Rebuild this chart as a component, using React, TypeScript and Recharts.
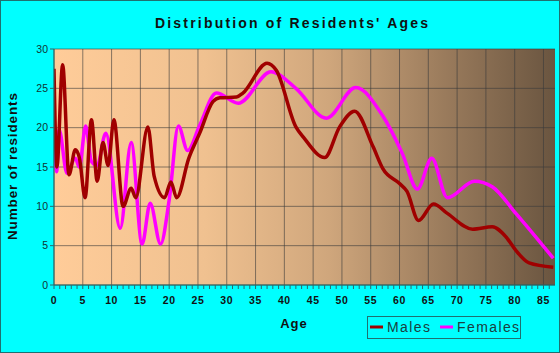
import React from 'react';
import { LineChart, Line, XAxis, YAxis, CartesianGrid, Legend } from 'recharts';

const maleAges = [0, 0.5, 1.5, 2.6, 3.7, 4.4, 5.4, 6.5, 7.5, 8.5, 9.4, 10.4, 12, 13.4, 14.2, 16.3, 17.4, 19.2, 20.3, 21.3, 23.4, 25.3, 27.6, 28.8, 31.7, 32.8, 37, 38.6, 42, 43.3, 47, 49.6, 52.2, 55.4, 57.1, 60, 61.3, 63.3, 65.9, 68.3, 72.7, 76.1, 78.5, 80.2, 82.5, 86.7];
const maleCounts = [27.5, 15, 28, 14, 17.2, 16.2, 11.1, 21, 13.2, 18.1, 15.2, 21, 10, 12.3, 11.1, 20.1, 13.8, 11.1, 13.1, 11.1, 16.1, 19.3, 23.3, 23.8, 23.9, 24.4, 28.2, 27.3, 20.1, 18.8, 16.2, 20.1, 22.1, 17.6, 14.8, 12.9, 11.9, 8.2, 10.3, 9.1, 7.1, 7.4, 6.1, 4.4, 2.8, 2.25];

const femaleAges = [0, 0.45, 0.9, 2.25, 3.7, 4.4, 5.5, 6.5, 7.5, 9, 11.5, 13.4, 15.3, 16.7, 18.5, 20, 21.6, 23.2, 25.3, 28.2, 32, 37.7, 42, 47.3, 52.4, 57, 60.5, 63.1, 65.6, 68.3, 73, 76.1, 80.2, 86.7];
const femaleCounts = [21, 14.4, 19.7, 14.2, 16.1, 15, 20.2, 15.7, 15.2, 19.3, 7.2, 18.1, 5.2, 10.4, 5.2, 10.8, 20.2, 17.1, 20.3, 24.4, 23.1, 27.1, 25, 21.2, 25.1, 21.6, 16.7, 12.2, 16.1, 11.1, 13.2, 12.5, 9.1, 3.4];

const xTickLabels = [0, 5, 10, 15, 20, 25, 30, 35, 40, 45, 50, 55, 60, 65, 70, 75, 80, 85];
const yTickLabels = [0, 5, 10, 15, 20, 25, 30];
const minorTicks = Array.from({ length: 87 }, (_, i) => i);

const males = maleAges.map((a, i) => ({ age: a, v: maleCounts[i] }));
const females = femaleAges.map((a, i) => ({ age: a, v: femaleCounts[i] }));

const FONT = '"Liberation Sans", Arial, sans-serif';
const AXIS = '#2b6b6b';

const XTick = (props: any) => {
  const { x, y, payload } = props;
  const major = payload.value % 5 === 0;
  return (
    <g>
      <line x1={x} x2={x} y1={y} y2={y + 4} stroke={AXIS} strokeWidth={1} />
      {major && (
        <text x={x} y={y + 19} textAnchor="middle" fontFamily={FONT} fontSize={10.5} fontWeight="bold" fill="#111" letterSpacing={0.6}>
          {payload.value}
        </text>
      )}
    </g>
  );
};

const LegendBox = () => (
  <svg width={154} height={23} style={{ display: 'block' }}>
    <rect x={0.5} y={0.5} width={153} height={22} fill="none" stroke="#1f7070" />
    <line x1={3} x2={16} y1={11} y2={11} stroke="#a00000" strokeWidth={3} />
    <text x={20} y={16} fontFamily={FONT} fontSize={14} fill="#1a4040" letterSpacing={1.4}>Males</text>
    <line x1={73} x2={86} y1={11} y2={11} stroke="#ff00ff" strokeWidth={3} />
    <text x={90} y={16} fontFamily={FONT} fontSize={14} fill="#1a4040" letterSpacing={1.4}>Females</text>
  </svg>
);

export default function App() {
  return (
    <div style={{ position: 'absolute', left: 0, top: 0, width: 560, height: 353, background: '#00ffff' }}>
      <LineChart width={560} height={353} margin={{ top: 49, right: 5, bottom: 38, left: 0 }}>
        <defs>
          <linearGradient id="bg" x1="0" y1="0" x2="1" y2="0">
            <stop offset="0%" stopColor="#ffcc99" />
            <stop offset="30%" stopColor="#f0c190" />
            <stop offset="55%" stopColor="#cfa67c" />
            <stop offset="78%" stopColor="#9a7b5c" />
            <stop offset="100%" stopColor="#6a5540" />
          </linearGradient>
        </defs>
        <CartesianGrid
          fill="url(#bg)"
          fillOpacity={1}
          stroke="#3a3a3a"
          strokeOpacity={0.6}
          verticalValues={xTickLabels}
          horizontalValues={yTickLabels}
        />
        <XAxis
          dataKey="age"
          type="number"
          domain={[0, 87]}
          ticks={minorTicks}
          interval={0}
          allowDataOverflow
          height={30}
          tickSize={0}
          tickMargin={0}
          tickLine={false}
          axisLine={{ stroke: AXIS }}
          tick={(p: any) => <XTick {...p} />}
        />
        <YAxis
          type="number"
          domain={[0, 30]}
          ticks={yTickLabels}
          interval={0}
          width={54}
          tickSize={4}
          tickMargin={2}
          tickLine={{ stroke: AXIS }}
          axisLine={{ stroke: AXIS }}
          tick={{ fontFamily: FONT, fontSize: 10.5, fill: '#133' }}
        />
        <Legend
          layout="horizontal"
          verticalAlign="middle"
          align="center"
          wrapperStyle={{ left: 367, top: 316, width: 154, height: 23 }}
          content={() => <LegendBox />}
        />
        <Line data={females} dataKey="v" type="monotone" stroke="#ff00ff" strokeWidth={3.5} dot={false} isAnimationActive={false} />
        <Line data={males} dataKey="v" type="monotone" stroke="#a00000" strokeWidth={3.5} dot={false} isAnimationActive={false} />
      </LineChart>
      <svg width={560} height={353} style={{ position: 'absolute', left: 0, top: 0, pointerEvents: 'none' }}>
        <rect x={0.5} y={0.5} width={559} height={352} fill="none" stroke="#1f7070" />
        <text x={291.5} y={28} textAnchor="middle" fontFamily={FONT} fontSize={14} fontWeight="bold" fill="#111" textLength={273} lengthAdjust="spacing">
          Distribution of Residents' Ages
        </text>
        <text transform="translate(17,166.5) rotate(-90)" textAnchor="middle" fontFamily={FONT} fontSize={13.5} fontWeight="bold" fill="#111" textLength={147} lengthAdjust="spacing">
          Number of residents
        </text>
        <text x={294} y={328} textAnchor="middle" fontFamily={FONT} fontSize={13} fontWeight="bold" fill="#111" letterSpacing={1}>
          Age
        </text>
      </svg>
    </div>
  );
}
